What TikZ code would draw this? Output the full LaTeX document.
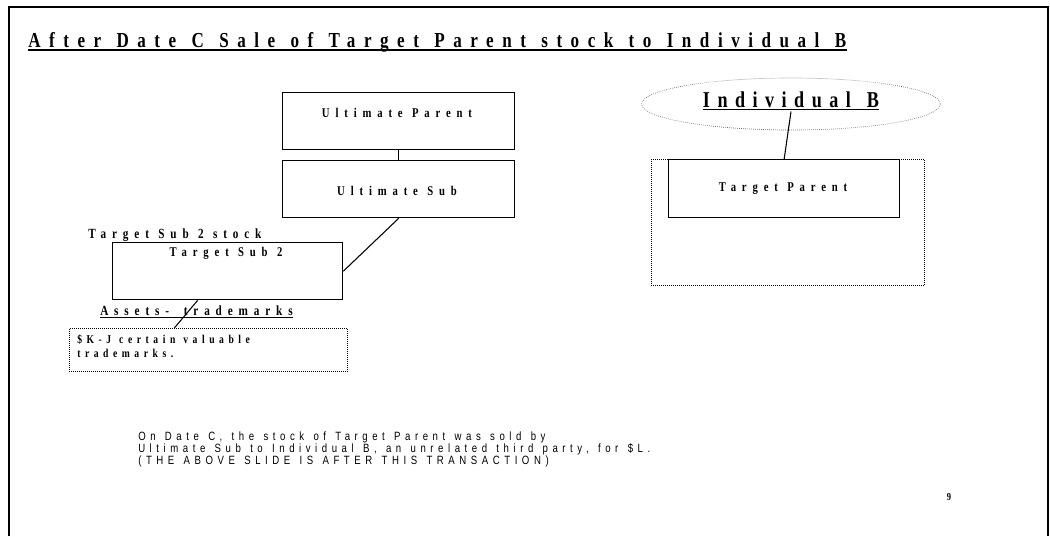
\documentclass[tikz,border=0pt]{standalone}
\usepackage{fontspec}
\usetikzlibrary{shapes.geometric}
\newfontfamily\slidefont[FakeStretch=0.8]{Liberation Serif}
\newfontfamily\notefont[FakeStretch=0.8]{Liberation Sans}
\newcommand\wordgap[1]{\spaceskip=#1pt plus 1pt\relax}
\newcommand\letterspace[1]{\addfontfeatures{LetterSpace=#1}}
\begin{document}
\begin{tikzpicture}[x=0.75pt,y=-0.75pt,
    box/.style={draw,line width=1pt,anchor=north west,inner sep=0pt},
    dotbox/.style={draw,densely dotted,line width=0.5pt,anchor=north west,inner sep=0pt},
    titletext/.style={inner sep=0pt,font=\slidefont\bfseries\fontsize{16}{19}\selectfont\letterspace{40}\wordgap{11.5}},
    bigtext/.style={inner sep=1pt,font=\slidefont\bfseries\fontsize{17}{20}\selectfont\letterspace{33}\wordgap{12}},
    boxtext/.style={inner sep=0pt,font=\slidefont\bfseries\fontsize{10}{12}\selectfont\letterspace{44}\wordgap{7}},
    tagtext/.style={inner sep=0pt,font=\slidefont\bfseries\fontsize{10.5}{12}\selectfont\letterspace{42}\wordgap{7}},
    smalltext/.style={inner sep=0pt,align=left,font=\slidefont\bfseries\fontsize{9}{10.5}\selectfont\letterspace{38}\wordgap{6}},
    notetext/.style={inner sep=0pt,align=left,font=\notefont\fontsize{9}{8.7}\selectfont\letterspace{38}\wordgap{7}}]
  \useasboundingbox (0,0) rectangle (1050,536);
  % slide frame
  \draw[line width=2pt] (9,536) -- (9,7) -- (1048,7) -- (1048,536);
  % title
  \node[titletext,anchor=base west] (title) at (28,47) {After Date C Sale of Target Parent stock to Individual B};
  \draw[line width=1.5pt] ([yshift=-2.5pt]title.base west) -- ([yshift=-2.5pt]title.base east);

  % left group
  \node[box,minimum width=174pt,minimum height=42.75pt] (up) at (282,92) {};
  \node[boxtext] (uptext) at (397,113) {Ultimate Parent};
  \node[box,minimum width=174pt,minimum height=42.75pt] (us) at (282,160) {};
  \node[boxtext] (ustext) at (397,191) {Ultimate Sub};
  \node[tagtext,anchor=base west] (ts2tag) at (88,238) {Target Sub 2 stock};
  \node[box,minimum width=172.5pt,minimum height=42.75pt] (ts2) at (112,242) {};
  \node[boxtext] (ts2text) at (226,253) {Target Sub 2};
  \node[tagtext,anchor=base west] (assets) at (100,315) {Assets-\hspace{4pt} trademarks};
  \draw[line width=0.8pt] ([yshift=-2pt]assets.base west) -- ([yshift=-2pt]assets.base east);
  \node[dotbox,minimum width=208.5pt,minimum height=32.25pt] (tm) at (69,328) {};
  \node[smalltext,anchor=base west] (tmtext) at (77,357) {\$K-J certain valuable\\trademarks.};

  \draw[line width=1pt] (up.south) -- (us.north);
  \draw[line width=0.8pt] (us.south) -- (ts2.east);
  \draw[line width=0.8pt] ([xshift=-22.5pt]ts2.south) -- ([xshift=-25.5pt]tm.north);

  % right group
  \node[ellipse,draw=black!60,densely dotted,line width=0.5pt,minimum width=224pt,minimum height=39pt] (ell) at (791,104) {};
  \node[bigtext,anchor=base] (indb) at (791,107) {\underline{Individual B}};
  \node[dotbox,minimum width=204.75pt,minimum height=94.5pt] (tpo) at (651,159) {};
  \node[box,minimum width=173.25pt,minimum height=43.5pt] (tp) at (668,159) {};
  \node[boxtext] (tptext) at (783,189) {Target Parent};
  \draw[line width=0.8pt] (indb.south) -- (tp.north);

  % note
  \node[notetext,anchor=base west] (note) at (138,464) {On Date C, the stock of Target Parent was sold by\\Ultimate Sub to Individual B, an unrelated third party, for \$L.\\(THE ABOVE SLIDE IS AFTER THIS TRANSACTION)};
  \node[inner sep=0pt,font=\slidefont\bfseries\fontsize{8}{10}\selectfont] (page) at (949,497) {9};
\end{tikzpicture}
\end{document}
